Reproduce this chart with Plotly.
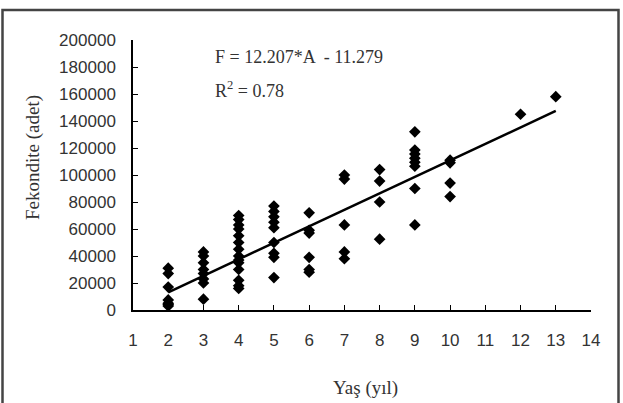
import plotly.graph_objects as go

# Data (age in years, fecundity in eggs)
age_2 = [31000, 27000, 17000, 7500, 5000, 4000, 3000]
age_3 = [43000, 40000, 35000, 30000, 27000, 23000, 20000, 8000]
age_4 = [70000, 67000, 63000, 60000, 55000, 50000, 45000, 40000, 37000, 35000, 30000, 22000, 18000, 16000]
age_5 = [77000, 73000, 69000, 65000, 61000, 50000, 42000, 39000, 24000]
age_6 = [72000, 59000, 57000, 39000, 30000, 28000]
age_7 = [100000, 97000, 63000, 43000, 38000]
age_8 = [104000, 95500, 80000, 52500]
age_9 = [132000, 118500, 115500, 112500, 109500, 106500, 90000, 63000]
age_10 = [111000, 109000, 94000, 84000]
age_12 = [145000]
age_13 = [158000]

groups = [(2, age_2), (3, age_3), (4, age_4), (5, age_5), (6, age_6), (7, age_7),
          (8, age_8), (9, age_9), (10, age_10), (12, age_12), (13, age_13)]

# Regression: F = 12.207*A - 11.279 (thousands)
slope = 12.207
intercept = -11.279
line_ages = [2, 13]

x_ticks = list(range(1, 15))
y_ticks = list(range(0, 200001, 20000))

xs, ys = [], []
for a, vals in groups:
    xs += [a] * len(vals)
    ys += vals

fig = go.Figure()
fig.add_trace(go.Scatter(
    x=xs, y=ys, mode="markers",
    marker=dict(symbol="diamond", size=9, color="black"),
    showlegend=False, hoverinfo="skip"))
fig.add_trace(go.Scatter(
    x=line_ages, y=[(slope * a + intercept) * 1000 for a in line_ages],
    mode="lines", line=dict(color="black", width=2.5),
    showlegend=False, hoverinfo="skip"))

tick_font = dict(family="Liberation Sans", size=17, color="#333333")
serif = "Liberation Serif"
PW, PH, L, T = 458, 270, 133, 40


def px(x):
    return (x - L) / PW


def py(y):
    return (T + PH - y) / PH


fig.update_layout(
    width=623, height=403,
    margin=dict(l=133, r=32, t=40, b=93),
    paper_bgcolor="white", plot_bgcolor="white",
    xaxis=dict(range=[1, 14], tickvals=x_ticks, ticktext=[str(v) for v in x_ticks],
               showgrid=False, zeroline=False, showline=True, linecolor="black", linewidth=1.5,
               ticks="inside", ticklen=5, tickcolor="black", tickfont=tick_font,
               ticklabelstandoff=14),
    yaxis=dict(range=[0, 200000], tickvals=y_ticks, ticktext=[str(v) for v in y_ticks],
               showgrid=False, zeroline=False, showline=True, linecolor="black", linewidth=1.5,
               ticks="inside", ticklen=5, tickcolor="black", tickfont=tick_font,
               ticklabelstandoff=12),
    annotations=[
        dict(x=px(213), y=py(57), xref="paper", yref="paper",
             xanchor="left", yanchor="middle", showarrow=False,
             text="F = 12.207*A  - 11.279", font=dict(family=serif, size=18, color="#333333")),
        dict(x=px(213), y=py(89), xref="paper", yref="paper",
             xanchor="left", yanchor="middle", showarrow=False,
             text="R<sup>2</sup> = 0.78", font=dict(family=serif, size=18, color="#333333")),
        dict(x=px(365), y=py(388), xref="paper", yref="paper",
             xanchor="center", yanchor="middle", showarrow=False,
             text="Yaş (yıl)", font=dict(family=serif, size=19, color="#333333")),
        dict(x=px(33), y=py(158), xref="paper", yref="paper",
             xanchor="center", yanchor="middle", showarrow=False, textangle=-90,
             text="Fekondite (adet)", font=dict(family=serif, size=19, color="#333333")),
    ],
    shapes=[dict(type="rect", xref="paper", yref="paper",
                 x0=px(2.5), x1=px(618.5), y0=py(420), y1=py(10),
                 line=dict(color="#444444", width=2.5), fillcolor="rgba(0,0,0,0)", layer="below")],
)

fig.write_html("out.html")
